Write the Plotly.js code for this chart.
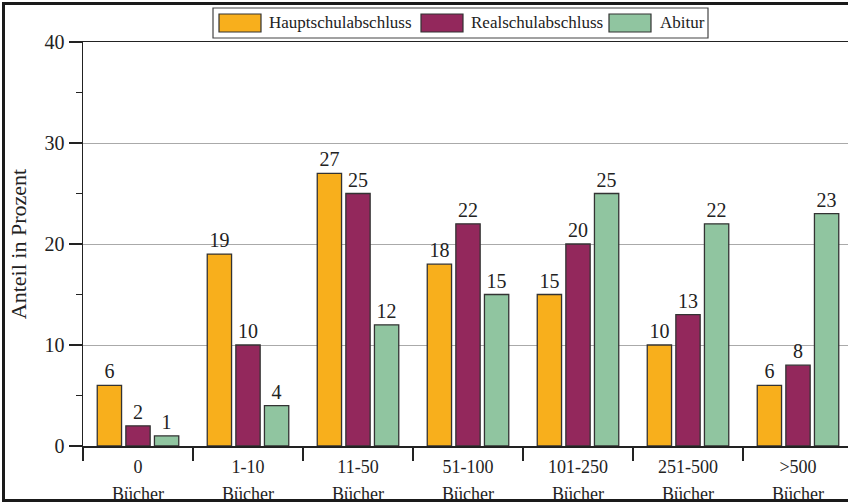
<!DOCTYPE html>
<html>
<head>
<meta charset="utf-8">
<script src="https://cdn.plot.ly/plotly-3.0.1.min.js"></script>
<style>
  html, body { margin: 0; padding: 0; width: 848px; height: 504px; overflow: hidden; background: #fff; }
  #chart { position: absolute; left: 0; top: 0; width: 860px; height: 504px; }
  #frame { position: absolute; left: 2px; top: 2px; width: 900px; height: 500px; box-sizing: border-box;
           border: 3px solid #1a1a1a; pointer-events: none; z-index: 10; }
</style>
</head>
<body>
<div id="chart"></div>
<div id="frame"></div>
<script>
// ---- data ----
const categories = ["0", "1-10", "11-50", "51-100", "101-250", "251-500", ">500"];
const unitLabel = "Bücher";
const seriesNames = ["Hauptschulabschluss", "Realschulabschluss", "Abitur"];
const hauptschul = [6, 19, 27, 18, 15, 10, 6];
const realschul = [2, 10, 25, 22, 20, 13, 8];
const abitur = [1, 4, 12, 15, 25, 22, 23];
const seriesColors = ["#F8AF1C", "#93285C", "#90C5A0"];
const yTickVals = [0, 10, 20, 30, 40];
const yTitle = "Anteil in Prozent";

// ---- geometry ----
const W = 860, H = 504;
const M = { l: 83, r: 7, t: 42, b: 58 };
const PW = W - M.l - M.r, PH = H - M.t - M.b;
const px2x = p => (p - M.l) / PW;
const px2y = p => (M.t + PH - p) / PH;

const FONT = "Liberation Serif, Times New Roman, serif";
const seriesValues = [hauptschul, realschul, abitur];

const traces = seriesValues.map((vals, i) => ({
  type: "bar",
  name: seriesNames[i],
  x: categories,
  y: vals,
  marker: { color: seriesColors[i], line: { color: "#333", width: 1.3 } },
  text: vals.map(String),
  textposition: "outside",
  textfont: { family: FONT, size: 20, color: "#222" },
  cliponaxis: false,
  showlegend: false,
  hoverinfo: "skip"
}));

// custom legend
const legendSwatchX = [219, 421, 609];
const legendTextX = [267, 469, 658];
const shapes = [{
  type: "rect", xref: "paper", yref: "paper",
  x0: px2x(213), x1: px2x(708), y0: px2y(38), y1: px2y(8),
  line: { color: "#444", width: 1.2 }, fillcolor: "#fff"
}];
const annotations = [];
seriesNames.forEach((n, i) => {
  shapes.push({
    type: "rect", xref: "paper", yref: "paper",
    x0: px2x(legendSwatchX[i]), x1: px2x(legendSwatchX[i] + 42),
    y0: px2y(32), y1: px2y(14),
    line: { color: "#333", width: 1.2 }, fillcolor: seriesColors[i]
  });
  annotations.push({
    xref: "paper", yref: "paper", x: px2x(legendTextX[i]), y: px2y(23),
    xanchor: "left", yanchor: "middle", showarrow: false,
    text: n, font: { family: FONT, size: 17, color: "#222" }
  });
});
categories.forEach((c, i) => {
  annotations.push({
    xref: "x", yref: "paper", x: i, y: px2y(494),
    xanchor: "center", yanchor: "middle", showarrow: false,
    text: unitLabel, font: { family: FONT, size: 18, color: "#222" }
  });
});

const layout = {
  width: W, height: H,
  margin: M,
  paper_bgcolor: "rgba(0,0,0,0)",
  plot_bgcolor: "#fff",
  barmode: "group",
  bargap: 0.22,
  bargroupgap: 0.15,
  font: { family: FONT, color: "#222" },
  xaxis: {
    type: "category",
    range: [-0.5, 6.5],
    tickson: "boundaries",
    ticks: "outside", ticklen: 13, tickcolor: "#222", tickwidth: 1.2,
    ticklabelstandoff: 4,
    showline: true, linecolor: "#222", linewidth: 1.5, mirror: true,
    showgrid: false, zeroline: false,
    tickfont: { family: FONT, size: 18, color: "#222" },
    fixedrange: true
  },
  yaxis: {
    range: [0, 40],
    tickvals: yTickVals,
    ticks: "outside", ticklen: 13, tickcolor: "#222", tickwidth: 1.2,
    minor: { dtick: 5, ticks: "outside", ticklen: 6, tickcolor: "#222", tickwidth: 1.2, showgrid: false },
    showline: true, linecolor: "#222", linewidth: 1.5,
    showgrid: true, gridcolor: "#aaa", gridwidth: 1,
    zeroline: false,
    tickfont: { family: FONT, size: 20, color: "#222" },
    title: { text: yTitle, font: { family: FONT, size: 22, color: "#222" }, standoff: 12 },
    fixedrange: true
  },
  shapes: shapes,
  annotations: annotations
};

Plotly.newPlot("chart", traces, layout, { displayModeBar: false, staticPlot: true });
</script>
</body>
</html>
